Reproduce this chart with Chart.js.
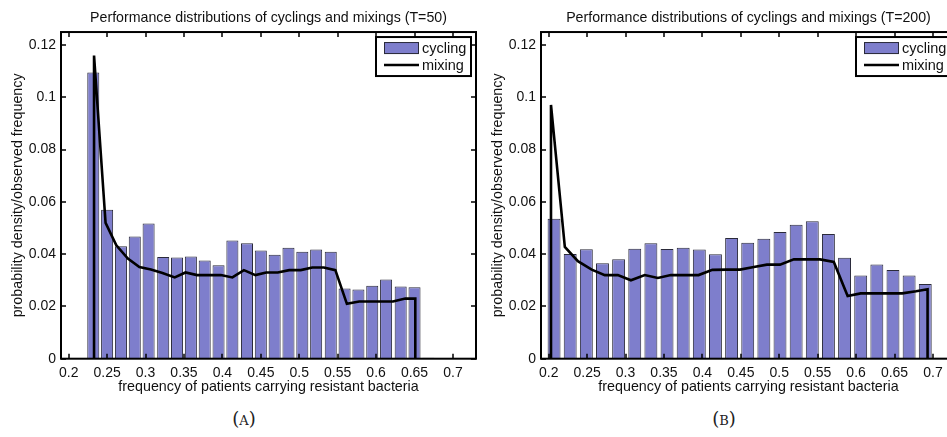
<!DOCTYPE html>
<html>
<head>
<meta charset="utf-8">
<script src="https://cdn.jsdelivr.net/npm/chart.js@4.4.1/dist/chart.umd.min.js"></script>
<style>
  html, body { margin: 0; padding: 0; background: #fff; overflow: hidden; width: 947px; height: 437px; }
  canvas { position: absolute; top: 0; }
  #chartA { left: 0; }
  #chartB { left: 480px; }
  .caption { position: absolute; top: 408px; font-family: "DejaVu Serif", "Liberation Serif", serif; font-size: 18px; line-height: 21px; color: #222; transform: translateX(-50%); }
</style>
</head>
<body>
<canvas id="chartA" width="490" height="400"></canvas>
<canvas id="chartB" width="490" height="400"></canvas>
<div class="caption" style="left:244px">(<span style="font-variant:small-caps">a</span>)</div>
<div class="caption" style="left:724px">(<span style="font-variant:small-caps">b</span>)</div>
<script>
const xTickLabels = ['0.2', '0.25', '0.3', '0.35', '0.4', '0.45', '0.5', '0.55', '0.6', '0.65', '0.7'];
const yTickLabels = ['0', '0.02', '0.04', '0.06', '0.08', '0.1', '0.12'];

// T=50
const binsA = [0.232, 0.250, 0.268, 0.286, 0.304, 0.323, 0.341, 0.359, 0.377, 0.395, 0.413, 0.432, 0.450,
  0.468, 0.486, 0.504, 0.522, 0.541, 0.559, 0.577, 0.595, 0.613, 0.632, 0.650, 0.668];
const cyclingA = [0.1095, 0.0570, 0.0430, 0.0468, 0.0517, 0.0389, 0.0387, 0.0391, 0.0376, 0.0358, 0.0452,
  0.0442, 0.0414, 0.0398, 0.0425, 0.0409, 0.0418, 0.0409, 0.0269, 0.0265, 0.0279, 0.0303, 0.0276, 0.0273, 0.0004];
const mixXA = [0.233, 0.233, 0.248, 0.262, 0.277, 0.292, 0.307, 0.322, 0.338, 0.352, 0.367, 0.382, 0.398,
  0.413, 0.428, 0.443, 0.457, 0.472, 0.487, 0.502, 0.517, 0.532, 0.547, 0.562, 0.578, 0.593, 0.608, 0.622,
  0.638, 0.651, 0.651];
const mixingA = [0, 0.116, 0.052, 0.0434, 0.0383, 0.0351, 0.0341, 0.0328, 0.0311, 0.033, 0.032, 0.032, 0.032,
  0.0311, 0.0339, 0.032, 0.033, 0.033, 0.0339, 0.0339, 0.0349, 0.0349, 0.0339, 0.021, 0.0219, 0.0219, 0.0219,
  0.0219, 0.023, 0.023, 0];

// T=200
const binsB = [0.207, 0.228, 0.249, 0.270, 0.291, 0.312, 0.333, 0.354, 0.375, 0.396, 0.417, 0.438, 0.459,
  0.480, 0.501, 0.522, 0.543, 0.564, 0.585, 0.606, 0.627, 0.648, 0.669, 0.690, 0.711];
const cyclingB = [0.0536, 0.0401, 0.0419, 0.0365, 0.0381, 0.0421, 0.0442, 0.0420, 0.0425, 0.0418, 0.0400,
  0.0462, 0.0444, 0.0459, 0.0485, 0.0513, 0.0526, 0.0477, 0.0386, 0.0318, 0.0360, 0.0339, 0.0318, 0.0286, 0.0004];
const mixXB = [0.203, 0.203, 0.221, 0.238, 0.256, 0.273, 0.290, 0.307, 0.325, 0.342, 0.359, 0.377, 0.395,
  0.413, 0.432, 0.449, 0.467, 0.484, 0.501, 0.519, 0.536, 0.553, 0.571, 0.589, 0.606, 0.623, 0.641, 0.660,
  0.678, 0.693, 0.693];
const mixingB = [0, 0.0971, 0.0428, 0.0373, 0.0341, 0.032, 0.032, 0.030, 0.032, 0.0309, 0.032, 0.032, 0.032,
  0.034, 0.0341, 0.0341, 0.0351, 0.036, 0.036, 0.038, 0.038, 0.038, 0.037, 0.024, 0.025, 0.025, 0.025, 0.025,
  0.0258, 0.0266, 0];

const FONT = '"Liberation Sans", Arial, Helvetica, sans-serif';
const BAR_FILL = 'rgb(126,126,204)';
const BAR_EDGE = '#2a2a3a';

// matlab style box with inward ticks on all four sides
const frameBox = {
  id: 'frameBox',
  afterDatasetsDraw(chart) {
    const { ctx, chartArea: a, scales: { x, y } } = chart;
    ctx.save();
    ctx.strokeStyle = '#000';
    ctx.lineWidth = 1.5;
    ctx.beginPath();
    x.ticks.forEach((t) => {
      const px = Math.round(x.getPixelForValue(t.value));
      ctx.moveTo(px, a.bottom); ctx.lineTo(px, a.bottom - 5);
      ctx.moveTo(px, a.top); ctx.lineTo(px, a.top + 5);
    });
    y.ticks.forEach((t) => {
      const py = Math.round(y.getPixelForValue(t.value));
      ctx.moveTo(a.left, py); ctx.lineTo(a.left + 5, py);
      ctx.moveTo(a.right, py); ctx.lineTo(a.right - 5, py);
    });
    ctx.stroke();
    ctx.lineWidth = 2;
    ctx.strokeRect(a.left, a.top, a.right - a.left, a.bottom - a.top);
    ctx.restore();
  },
};

const boxLegend = {
  id: 'boxLegend',
  afterDraw(chart) {
    const { ctx, chartArea: a } = chart;
    const [bars, line] = chart.data.datasets;
    const left = a.right - 100;
    const top = a.top + 5;
    ctx.save();
    ctx.fillStyle = '#fff';
    ctx.fillRect(left, top, 95, 39);
    ctx.lineWidth = 2;
    ctx.strokeStyle = '#000';
    ctx.strokeRect(left, top, 95, 39);
    ctx.fillStyle = bars.backgroundColor;
    ctx.fillRect(left + 8, top + 5, 35, 12);
    ctx.lineWidth = 1;
    ctx.strokeStyle = BAR_EDGE;
    ctx.strokeRect(left + 8.5, top + 5.5, 34, 11);
    ctx.lineWidth = 2.5;
    ctx.strokeStyle = line.borderColor;
    ctx.beginPath();
    ctx.moveTo(left + 8, top + 28);
    ctx.lineTo(left + 43, top + 28);
    ctx.stroke();
    ctx.fillStyle = '#111';
    ctx.font = '14.5px ' + FONT;
    ctx.textBaseline = 'alphabetic';
    ctx.fillText(bars.label, left + 46, top + 16);
    ctx.fillText(line.label, left + 46, top + 33);
    ctx.restore();
  },
};

function makeChart(canvas, title, bins, cycling, mixX, mixing, barPct) {
  return new Chart(canvas, {
    type: 'bar',
    data: {
      datasets: [
        {
          label: 'cycling',
          data: bins.map((b, i) => ({ x: b, y: cycling[i] })),
          backgroundColor: BAR_FILL,
          borderColor: BAR_EDGE,
          borderWidth: 1,
          barPercentage: barPct,
          categoryPercentage: 1,
          order: 1,
        },
        {
          type: 'line',
          label: 'mixing',
          data: mixX.map((v, i) => ({ x: v, y: mixing[i] })),
          borderColor: '#000',
          borderWidth: 2.6,
          pointRadius: 0,
          tension: 0,
          fill: false,
          order: 0,
        },
      ],
    },
    options: {
      responsive: false,
      animation: false,
      layout: { padding: { left: 0, right: 14, top: 0, bottom: 0 } },
      plugins: {
        legend: { display: false },
        tooltip: { enabled: false },
        title: {
          display: true,
          text: title,
          fullSize: false,
          color: '#111',
          font: { family: FONT, size: 14.2, weight: 'normal' },
          padding: { top: 9.2, bottom: 5.8 },
        },
      },
      scales: {
        x: {
          type: 'linear',
          min: 0.19,
          max: 0.73,
          offset: false,
          grid: { display: false, drawTicks: false },
          border: { display: false },
          ticks: {
            stepSize: 0.05,
            includeBounds: false,
            autoSkip: false,
            maxRotation: 0,
            padding: 6,
            color: '#111',
            font: { family: FONT, size: 14 },
            callback: (v, i) => xTickLabels[i],
          },
          title: {
            display: true,
            text: 'frequency of patients carrying resistant bacteria',
            color: '#111',
            font: { family: FONT, size: 14.3 },
            padding: { top: 0, bottom: 4.3 },
          },
          afterFit: (scale) => { scale.height = 41.3; },
        },
        y: {
          min: 0,
          max: 0.125,
          grid: { display: false, drawTicks: false },
          border: { display: false },
          ticks: {
            stepSize: 0.02,
            includeBounds: false,
            padding: 5,
            color: '#111',
            font: { family: FONT, size: 14 },
            callback: (v, i) => yTickLabels[i],
          },
          title: {
            display: true,
            text: 'probability density/observed frequency',
            color: '#111',
            font: { family: FONT, size: 14.3 },
            padding: { top: 9.4, bottom: 0 },
          },
          afterFit: (scale) => { scale.width = 61; },
        },
      },
    },
    plugins: [frameBox, boxLegend],
  });
}

makeChart(document.getElementById('chartA'), 'Performance distributions of cyclings and mixings (T=50)',
  binsA, cyclingA, mixXA, mixingA, 0.87);
makeChart(document.getElementById('chartB'), 'Performance distributions of cyclings and mixings (T=200)',
  binsB, cyclingB, mixXB, mixingB, 0.8);
</script>
</body>
</html>
